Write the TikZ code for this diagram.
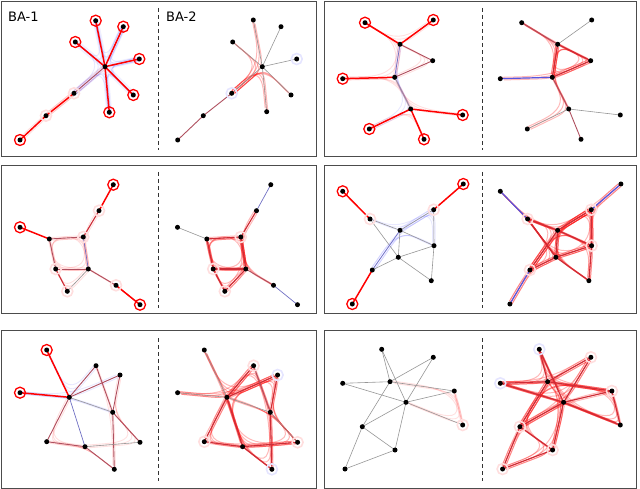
\documentclass[tikz,border=0pt]{standalone}
\usepackage{fontspec}
\setmainfont{DejaVu Sans}
\usetikzlibrary{calc}
\definecolor{mauve}{RGB}{175,80,95}
\definecolor{dred}{RGB}{205,45,55}
\definecolor{eblue}{RGB}{85,85,225}
\definecolor{egray}{RGB}{150,150,150}
\newcommand\edges[2]{\foreach \u/\v in {#2}{\draw[#1] (\u)--(\v);}}
\newcommand\putdots[2]{\foreach \n in {#2}{\node[dot] (#1\n n) at (#1\n) {};}}
\newcommand\rings[3]{\foreach \n in {#3}{\node[#1] (#2\n r) at (#2\n) {};}}
\newcommand\walkset[2]{\foreach \u/\v/\w in {#2}{\foreach \ps/\pt/\po in {0.38/0.62/-1.3,0.53/0.47/0,0.66/0.34/1.3}{\draw[#1,transform canvas={shift={(\po,\po)}}] ($(\u)!0.05!(\v)$) -- ($(\u)!\ps!(\v)$) .. controls ($(\u)!\ps!(\v)!0.7!(\v)$) and ($(\v)!\pt!(\w)!0.7!(\v)$) .. ($(\v)!\pt!(\w)$) -- ($(\v)!0.95!(\w)$);}}}
\newcommand\gthree[2]{%
 \coordinate (#1a) at (113.3+#2,184.7);
 \coordinate (#1b) at (99+#2,210.7);
 \coordinate (#1c) at (20+#2,227.3);
 \coordinate (#1d) at (49.3+#2,239);
 \coordinate (#1e) at (83.3+#2,237);
 \coordinate (#1f) at (55.7+#2,269);
 \coordinate (#1g) at (88.3+#2,269);
 \coordinate (#1h) at (67.3+#2,291.3);
 \coordinate (#1i) at (116+#2,285.3);
 \coordinate (#1j) at (140+#2,304.7);}
\newcommand\gfour[2]{%
 \coordinate (#1a) at (342.7+#2,191.3);
 \coordinate (#1b) at (463.3+#2,184);
 \coordinate (#1c) at (370+#2,219);
 \coordinate (#1d) at (433.7+#2,209.7);
 \coordinate (#1e) at (400+#2,230.3);
 \coordinate (#1f) at (434+#2,245.7);
 \coordinate (#1g) at (398.3+#2,257.3);
 \coordinate (#1h) at (372.3+#2,270);
 \coordinate (#1i) at (431.3+#2,280.7);
 \coordinate (#1j) at (352.3+#2,304);}
\newcommand\gfive[2]{%
 \coordinate (#1a) at (46.7+#2,350);
 \coordinate (#1b) at (20+#2,392.7);
 \coordinate (#1c) at (69.3+#2,397.3);
 \coordinate (#1d) at (96+#2,365.7);
 \coordinate (#1e) at (120+#2,375);
 \coordinate (#1f) at (112.7+#2,412.3);
 \coordinate (#1g) at (46.7+#2,441.7);
 \coordinate (#1h) at (85+#2,446.7);
 \coordinate (#1i) at (140+#2,442.3);
 \coordinate (#1j) at (114.3+#2,469.3);}
\newcommand\gsix[2]{%
 \coordinate (#1a) at (381.7+#2,349.3);
 \coordinate (#1b) at (433.3+#2,357.3);
 \coordinate (#1c) at (342.7+#2,383.3);
 \coordinate (#1d) at (390+#2,381.7);
 \coordinate (#1e) at (454.3+#2,391);
 \coordinate (#1f) at (406+#2,402.3);
 \coordinate (#1g) at (462.7+#2,425);
 \coordinate (#1h) at (362.3+#2,426.7);
 \coordinate (#1i) at (395+#2,450);
 \coordinate (#1j) at (345+#2,469);}
\begin{document}
\begin{tikzpicture}[x=1pt,y=-1pt,
  dot/.style={circle,fill=black,inner sep=0pt,minimum size=5pt},
  rring/.style={circle,draw=red,line width=1.3pt,inner sep=0pt,minimum size=11pt},
  pring/.style={circle,draw=red!13,line width=1.6pt,inner sep=0pt,minimum size=11pt},
  bring/.style={circle,draw=blue!10,line width=1.6pt,inner sep=0pt,minimum size=11pt},
  er/.style={draw=red,line width=1.5pt},
  em/.style={draw=mauve,line width=0.9pt},
  ed/.style={draw=dred,line width=1.1pt},
  eg/.style={draw=egray,line width=0.6pt},
  eb/.style={draw=eblue,line width=1.2pt},
  ebf/.style={draw=eblue!60!egray,line width=0.7pt},
  walk/.style={draw=red,opacity=0.28,line width=1pt},
  fwalk/.style={draw=red,opacity=0.12,line width=0.9pt},
  bwalk/.style={draw=blue,opacity=0.09,line width=0.9pt},
  halo/.style={draw=blue!6,line width=6pt,line cap=round},
  frame/.style={draw=black!70,line width=1pt},
  sep/.style={draw=black!80,line width=0.8pt,dash pattern=on 4pt off 3pt},
  lbl/.style={font=\fontsize{13}{13}\selectfont,anchor=base west,inner sep=0pt}
]
\useasboundingbox (0,0) rectangle (640,489);
% frames
\draw[frame] (1.5,2) rectangle (316,156.5);
\draw[frame] (324,2) rectangle (636.5,156.5);
\draw[frame] (1.5,166) rectangle (316,313);
\draw[frame] (324,166) rectangle (636.5,313);
\draw[frame] (1.5,330) rectangle (316,488);
\draw[frame] (324,330) rectangle (636.5,488);
\coordinate (s1t) at (158,8); \coordinate (s1b) at (158,150);
\coordinate (s2t) at (482,8); \coordinate (s2b) at (482,150);
\coordinate (s3t) at (158,172); \coordinate (s3b) at (158,308);
\coordinate (s4t) at (482,172); \coordinate (s4b) at (482,308);
\coordinate (s5t) at (158,338); \coordinate (s5b) at (158,481);
\coordinate (s6t) at (482,338); \coordinate (s6b) at (482,481);
\edges{sep}{s1t/s1b,s2t/s2b,s3t/s3b,s4t/s4b,s5t/s5b,s6t/s6b}
\node[lbl] (lab1) at (8,21.3) {BA-1};
\node[lbl] (lab2) at (166,21.3) {BA-2};

% ===== Panel 1 =====
\coordinate (Ah) at (105,66.7); \coordinate (Al1) at (95.7,20.7);
\coordinate (Al2) at (123.3,26.7); \coordinate (Al3) at (75.3,42);
\coordinate (Al4) at (139.3,59); \coordinate (Al5) at (133.3,95);
\coordinate (Al6) at (109.3,112.3); \coordinate (Ac1) at (74,93.3);
\coordinate (Ac2) at (46,115.7); \coordinate (Ac3) at (20,140);
\coordinate (Bh) at (262.3,66.7); \coordinate (Bl1) at (253.3,20);
\coordinate (Bl2) at (281,26.7); \coordinate (Bl3) at (232.7,42);
\coordinate (Bl4) at (296.7,59); \coordinate (Bl5) at (291,95);
\coordinate (Bl6) at (266.7,111.7); \coordinate (Bc1) at (231.7,93.3);
\coordinate (Bc2) at (203.3,115.7); \coordinate (Bc3) at (177.7,140);
\edges{halo}{Ah/Al1,Ah/Al2,Ah/Al3,Ah/Al4,Ah/Al5,Ah/Al6,Ah/Ac1}
\walkset{bwalk}{Al3/Ah/Ac1,Al1/Ah/Al2,Al4/Ah/Al5,Al6/Ah/Ac1,Al2/Ah/Al4,Al1/Ah/Al3,Al5/Ah/Al6}
\walkset{fwalk}{Ac3/Ac2/Ac1,Ac2/Ac1/Ah}
\edges{er}{Ah/Al1,Ah/Al2,Ah/Al3,Ah/Al4,Ah/Al5,Ah/Al6,Ac1/Ac2,Ac2/Ac3}
\edges{em}{Ah/Ac1}
\walkset{walk}{Bl3/Bh/Bc1,Bl1/Bh/Bc1,Bc1/Bh/Bl5,Bc1/Bh/Bl6}
\edges{eg}{Bh/Bl1,Bh/Bl2,Bh/Bl3,Bh/Bl4,Bh/Bl5,Bh/Bl6,Bh/Bc1}
\edges{em}{Bc1/Bc2,Bc2/Bc3}
\rings{rring}{A}{l1,l2,l3,l4,l5,l6,c3}
\rings{pring}{A}{c1,c2}
\rings{bring}{B}{l4,c1}
\putdots{A}{h,l1,l2,l3,l4,l5,l6,c1,c2,c3}
\putdots{B}{h,l1,l2,l3,l4,l5,l6,c1,c2,c3}

% ===== Panel 2 =====
\coordinate (Ca) at (365,22.7); \coordinate (Cb) at (433.3,20);
\coordinate (Cc) at (400,44.3); \coordinate (Cd) at (432.7,60.7);
\coordinate (Ce) at (394.7,77.3); \coordinate (Cf) at (342.7,78.7);
\coordinate (Cg) at (410.7,109); \coordinate (Ch) at (462.7,115);
\coordinate (Ci) at (369.3,129); \coordinate (Cj) at (424,139.3);
\coordinate (Da) at (521.7,22.7); \coordinate (Db) at (591.7,20);
\coordinate (Dc) at (557.7,44.3); \coordinate (Dd) at (590.7,60.7);
\coordinate (De) at (552.3,77.3); \coordinate (Df) at (500.3,78.7);
\coordinate (Dg) at (568.7,109); \coordinate (Dh) at (620.3,115);
\coordinate (Di) at (527.3,129); \coordinate (Dj) at (581,139.3);
\walkset{fwalk}{Ca/Cc/Cb,Cc/Cd/Ce,Cf/Ce/Cc,Cf/Ce/Cg,Ce/Cg/Ch,Ci/Cg/Cj,Ca/Cc/Ce}
\walkset{bwalk}{Ce/Cg/Ci,Cc/Ce/Cg}
\edges{er}{Ca/Cc,Cb/Cc,Cf/Ce,Cg/Ch,Cg/Ci,Cg/Cj}
\edges{em}{Cc/Cd,Ce/Cd}
\edges{ebf}{Cc/Ce}
\edges{eg}{Ce/Cg}
\walkset{walk}{Dc/Dd/De,De/Dc/Dd,Dd/De/Dc,Da/Dc/Dd,Df/De/Dd,De/Dg/Di,Dc/De/Dg,Da/Dc/De}
\edges{em}{Da/Dc,De/Dg,Dg/Dj}
\edges{ed}{Dc/Dd,Dc/De,De/Dd}
\edges{eg}{Db/Dc,Dg/Dh,Dg/Di}
\edges{eb}{Df/De}
\rings{rring}{C}{a,b,f,h,i,j}
\putdots{C}{a,b,c,d,e,f,g,h,i,j}
\putdots{D}{a,b,c,d,e,f,g,h,i,j}

% ===== Panel 3 =====
\gthree{E}{0}
\gthree{F}{157.5}
\walkset{fwalk}{Ed/Ee/Eg,Ee/Eg/Ef,Eg/Ef/Ed,Ef/Ed/Ee,Ef/Eh/Eg,Eb/Ee/Eg,Eg/Ei/Ej}
\edges{er}{Ea/Eb,Ec/Ed,Ei/Ej}
\edges{ed}{Eb/Ee,Ef/Eh}
\edges{em}{Ed/Ee,Ed/Ef,Ef/Eg,Eg/Ei}
\edges{ebf}{Ee/Eg}
\edges{eg}{Eg/Eh}
\walkset{walk}{Fd/Fe/Fg,Fe/Fg/Ff,Fg/Ff/Fd,Ff/Fd/Fe,Ff/Fh/Fg,Fd/Ff/Fh,Fb/Fe/Fg,Fe/Fg/Fi,Fh/Fg/Fe}
\edges{ed}{Fb/Fe,Fd/Fe,Fd/Ff,Fe/Fg,Ff/Fg,Ff/Fh,Fg/Fh}
\edges{em}{Fg/Fi}
\edges{eg}{Fc/Fd}
\edges{ebf}{Fa/Fb,Fi/Fj}
\rings{rring}{E}{a,c,j}
\rings{pring}{E}{b,e,f,h,i}
\rings{pring}{F}{e,f,h}
\putdots{E}{a,b,c,d,e,f,g,h,i,j}
\putdots{F}{a,b,c,d,e,f,g,h,i,j}

% ===== Panel 4 =====
\gfour{G}{0}
\gfour{H}{157.6}
\walkset{bwalk}{Gc/Ge/Gd,Gh/Ge/Gd,Ge/Gd/Gf,Gh/Ge/Gf}
\edges{er}{Ga/Gc,Gb/Gd,Gh/Gj}
\edges{eg}{Gc/Ge,Gc/Gg,Gd/Ge,Gd/Gf,Ge/Gf,Ge/Gg,Gf/Gg,Gg/Gh,Gf/Gi,Gg/Gi}
\edges{ebf}{Ge/Gh}
\walkset{walk}{Hc/He/Hf,Hc/He/Hd,Hc/Hg/Hf,Hc/Hg/Hi,Hd/He/Hg,Hd/Hf/Hg,Hd/Hf/Hi,He/Hf/Hi,He/Hg/Hi,Hh/He/Hd,Hh/Hg/Hf,Hh/He/Hf,Hc/He/Hh,Hc/Hg/Hh,He/Hd/Hf,Hg/He/Hd,Ha/Hc/He,Ha/Hc/Hg,Hb/Hd/He,Hb/Hd/Hf,Hj/Hh/He,Hj/Hh/Hg}
\edges{ed}{Hc/He,Hc/Hg,Hd/He,Hd/Hf,He/Hf,He/Hg,Hf/Hg,Hg/Hh,Hf/Hi,Hg/Hi,He/Hh}
\edges{eb}{Ha/Hc,Hb/Hd,Hh/Hj}
\rings{rring}{G}{a,b,j}
\rings{pring}{G}{c,d}
\rings{pring}{H}{c,d,f,h}
\putdots{G}{a,b,c,d,e,f,g,h,i,j}
\putdots{H}{a,b,c,d,e,f,g,h,i,j}

% ===== Panel 5 =====
\gfive{I}{0}
\gfive{J}{157.6}
\walkset{fwalk}{Ic/Ig/Ih,Ig/Ih/Ij,Id/If/Ij,Ie/If/Ii,Ih/Ii/If}
\walkset{bwalk}{Ib/Ic/Ie,Ia/Ic/Id,Ib/Ic/If}
\edges{er}{Ia/Ic,Ib/Ic}
\edges{em}{Ic/Id,Ic/Ie,Ic/Ig,Id/If,Ie/If,If/Ii,If/Ij,Ig/Ih,Ih/Ij}
\edges{eg}{Ic/If,Ih/Ii}
\edges{ebf}{Ic/Ih}
\walkset{walk}{Jc/Jd/Jf,Jc/Je/Jf,Jd/Jc/Jg,Je/Jc/Jh,Jc/Jh/Jj,Jg/Jh/Ji,Jh/Ji/Jf,Jf/Jj/Jh,Jd/Jf/Jj,Je/Jf/Ji,Jc/Jg/Jh,Jb/Jc/Jd,Jb/Jc/Je,Ja/Jc/Jh,Ja/Jc/Je,Jc/Jh/Ji,Ji/Jf/Jc}
\edges{ed}{Jc/Jd,Jc/Je,Jc/Jg,Jc/Jh,Je/Jf,Jf/Jj,Jg/Jh,Jh/Ji,Jh/Jj}
\edges{em}{Jd/Jf}
\edges{eg}{Ja/Jc,Jb/Jc,Jc/Jf,Jf/Ji}
\rings{rring}{I}{a,b}
\rings{pring}{J}{d,g,i}
\rings{bring}{J}{e,j}
\putdots{I}{a,b,c,d,e,f,g,h,i,j}
\putdots{J}{a,b,c,d,e,f,g,h,i,j}

% ===== Panel 6 =====
\gsix{K}{0}
\gsix{L}{157.6}
\walkset{fwalk}{Kd/Ke/Kg,Kf/Kg/Ke}
\edges{eg}{Ka/Kd,Ka/Kf,Kb/Kd,Kb/Kf,Kc/Kd,Kc/Kf,Kd/Ke,Kd/Kh,Ke/Kf,Kf/Kg,Kf/Kh,Kf/Ki,Kh/Ki,Kh/Kj,Ki/Kj}
\draw[draw=red!35,line width=0.6pt] (Ke)--(Kg);
\walkset{walk}{La/Ld/Le,La/Lf/Lg,Lb/Ld/Lc,Lb/Lf/Lh,Lc/Ld/Le,Lc/Lf/Lg,Ld/Le/Lg,Ld/Lf/Li,Ld/Lh/Lj,Le/Lf/Lh,Lf/Lh/Lj,Lh/Li/Lj,Li/Lf/La,Li/Lh/Ld,Lf/Lg/Le,Lc/Ld/La,Lb/Ld/Lh,Lc/Lf/Lb,Le/Ld/Lh,Lg/Lf/Lc,Lj/Li/Lf}
\edges{ed}{La/Ld,La/Lf,Lb/Ld,Lb/Lf,Lc/Ld,Lc/Lf,Ld/Le,Ld/Lh,Le/Lf,Lf/Lg,Lf/Lh,Lf/Li,Lh/Li,Lh/Lj,Li/Lj,Le/Lg}
\rings{pring}{K}{g}
\rings{bring}{L}{a,c}
\rings{pring}{L}{b,e,h,i,j}
\putdots{K}{a,b,c,d,e,f,g,h,i,j}
\putdots{L}{a,b,c,d,e,f,g,h,i,j}
\end{tikzpicture}
\end{document}
